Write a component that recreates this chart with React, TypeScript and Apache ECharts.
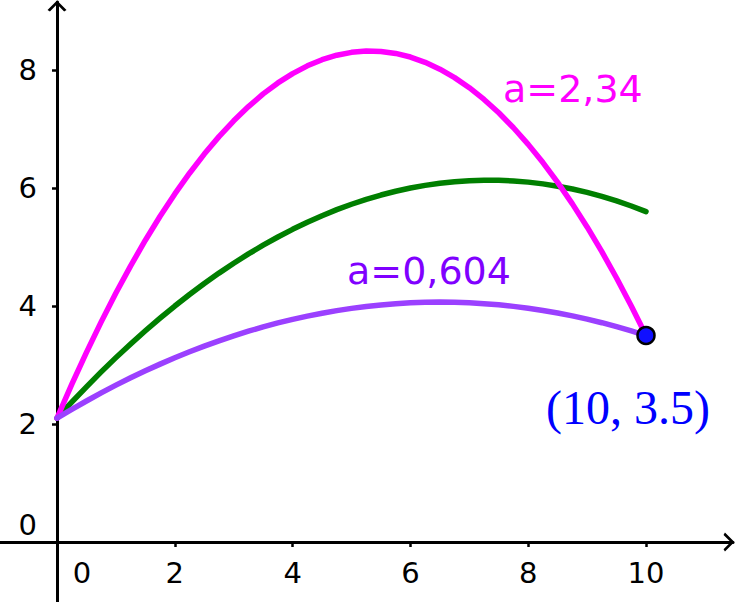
import React, { useEffect, useRef } from "react";
import * as echarts from "echarts";

const xs = [0, 0.25, 0.5, 0.75, 1, 1.25, 1.5, 1.75, 2, 2.25, 2.5, 2.75, 3, 3.25, 3.5, 3.75, 4, 4.25, 4.5, 4.75, 5, 5.25, 5.5, 5.75, 6, 6.25, 6.5, 6.75, 7, 7.25, 7.5, 7.75, 8, 8.25, 8.5, 8.75, 9, 9.25, 9.5, 9.75, 10];
const pinkY = [2.1, 2.671, 3.215, 3.731, 4.22, 4.681, 5.115, 5.521, 5.9, 6.251, 6.575, 6.871, 7.14, 7.381, 7.595, 7.781, 7.94, 8.071, 8.175, 8.251, 8.3, 8.321, 8.315, 8.281, 8.22, 8.131, 8.015, 7.871, 7.7, 7.501, 7.275, 7.021, 6.74, 6.431, 6.095, 5.731, 5.34, 4.921, 4.475, 4.001, 3.5];
const greenY = [2.1, 2.37, 2.631, 2.883, 3.125, 3.358, 3.581, 3.795, 4.0, 4.195, 4.381, 4.558, 4.725, 4.883, 5.031, 5.17, 5.3, 5.42, 5.531, 5.633, 5.725, 5.808, 5.881, 5.945, 6.0, 6.045, 6.081, 6.108, 6.125, 6.133, 6.131, 6.12, 6.1, 6.07, 6.031, 5.983, 5.925, 5.858, 5.781, 5.695, 5.6];
const purpleY = [2.1, 2.248, 2.39, 2.527, 2.658, 2.783, 2.902, 3.015, 3.122, 3.224, 3.32, 3.41, 3.494, 3.573, 3.646, 3.713, 3.774, 3.829, 3.878, 3.922, 3.96, 3.992, 4.018, 4.039, 4.054, 4.063, 4.066, 4.063, 4.054, 4.04, 4.02, 3.994, 3.962, 3.925, 3.882, 3.833, 3.778, 3.717, 3.65, 3.578, 3.5];
const pointXY = [10, 3.5];
const xTicks = [2, 4, 6, 8, 10];
const yTicks = [2, 4, 6, 8];
const xLabels = [0, 2, 4, 6, 8, 10];
const yLabels = [0, 2, 4, 6, 8];

const FONT = "DejaVu Sans";
const chevron = "path://M0,10 L10,0 L20,10 L17.5,11.5 L10,4 L2.5,11.5 Z";

export default function App() {
  const ref = useRef<HTMLDivElement>(null);
  useEffect(() => {
    if (!ref.current) return;
    const chart = echarts.init(ref.current, undefined, { renderer: "svg" });
    const zip = (ys: number[]) => xs.map((x, i) => [x, ys[i]]);
    const axisLine = {
      show: true,
      onZero: true,
      symbol: ["none", chevron],
      symbolSize: [19, 11],
      symbolOffset: [0, -4],
      lineStyle: { color: "#000", width: 3 },
    };
    chart.setOption({
      animation: false,
      grid: { left: 0, right: 2, top: 2, bottom: 0, containLabel: false, outerBoundsMode: "none" },
      xAxis: {
        type: "value",
        min: -0.968,
        max: 11.477,
        axisLine,
        splitLine: { show: false },
        axisTick: { show: true, customValues: xTicks, length: 5, lineStyle: { color: "#000", width: 2.5 } },
        axisLabel: {
          customValues: xLabels,
          margin: -44,
          fontFamily: FONT,
          fontSize: 29,
          color: "#000",
          formatter: (v: number) => (v === 0 ? "{z|0}" : String(v)),
          rich: { z: { fontFamily: FONT, fontSize: 29, color: "#000", padding: [0, 0, 0, 50] } },
        },
      },
      yAxis: {
        type: "value",
        min: -1.017,
        max: 9.153,
        axisLine,
        splitLine: { show: false },
        axisTick: { show: true, customValues: yTicks, length: 5, lineStyle: { color: "#000", width: 2.5 } },
        axisLabel: {
          customValues: yLabels,
          margin: -37,
          fontFamily: FONT,
          fontSize: 29,
          color: "#000",
          formatter: (v: number) => (v === 0 ? "{z|0}" : String(v)),
          rich: { z: { fontFamily: FONT, fontSize: 29, color: "#000", padding: [0, 0, 34, 0] } },
        },
      },
      series: [
        {
          type: "line",
          data: zip(pinkY),
          showSymbol: false,
          lineStyle: { color: "#ff00ff", width: 5.5, join: "round", cap: "round" },
          z: 3,
        },
        {
          type: "line",
          data: zip(greenY),
          showSymbol: false,
          lineStyle: { color: "#007f00", width: 5.5, join: "round", cap: "round" },
          z: 2,
        },
        {
          type: "line",
          data: zip(purpleY),
          showSymbol: false,
          lineStyle: { color: "#9b40ff", width: 5.5, join: "round", cap: "round" },
          z: 4,
        },
        {
          type: "scatter",
          data: [pointXY],
          symbolSize: 17,
          itemStyle: { color: "#1010ff", borderColor: "#000", borderWidth: 2.5, opacity: 1 },
          z: 5,
          label: {
            show: true,
            formatter: "(10, 3.5)",
            position: "inside",
            offset: [-18, 72],
            fontFamily: "Liberation Serif",
            fontSize: 48,
            color: "#0000ff",
          },
        },
      ],
      graphic: [
        {
          type: "text",
          left: 503,
          top: 70,
          style: { text: "a=2,34", fontFamily: FONT, fontSize: 38, fill: "#ff00ff" },
        },
        {
          type: "text",
          left: 347,
          top: 252,
          style: { text: "a=0,604", fontFamily: FONT, fontSize: 38, fill: "#8000ff" },
        },
      ],
    });
    return () => chart.dispose();
  }, []);
  return (
    <div
      ref={ref}
      style={{ position: "fixed", left: 0, top: 0, width: 735, height: 602, background: "#fff" }}
    />
  );
}
